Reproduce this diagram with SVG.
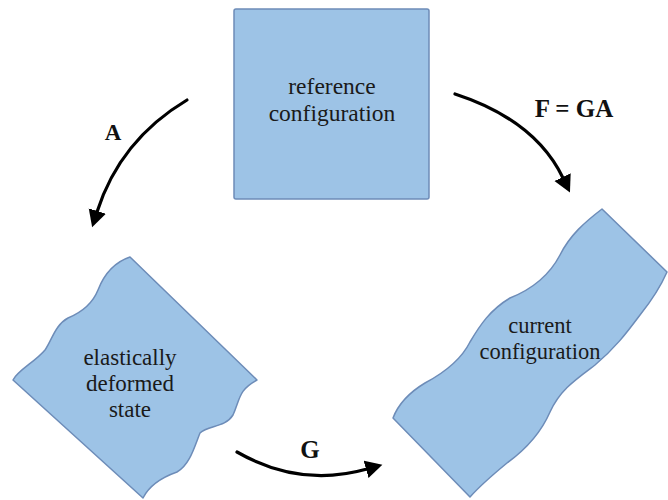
<svg xmlns="http://www.w3.org/2000/svg" width="668" height="500" viewBox="0 0 668 500">
<style>
.shape{fill:#9dc3e6;stroke:#6d8cb8;stroke-width:1.5;stroke-linejoin:round}
.lbl{font-family:"Liberation Serif","Times New Roman",Tinos,"DejaVu Serif",serif;fill:#1a1a1a;text-anchor:middle}
.math{font-family:"Liberation Serif","Times New Roman",Tinos,"DejaVu Serif",serif;font-weight:bold;fill:#111;text-anchor:middle}
.arr{fill:none;stroke:#000;stroke-width:3.2;stroke-linecap:round}
</style>
<defs>
<marker id="ah" markerUnits="userSpaceOnUse" markerWidth="20" markerHeight="20" refX="1" refY="9" orient="auto">
<path d="M0,0 L17,9 L0,18 Z" fill="#000"/>
</marker>
</defs>
<rect width="668" height="500" fill="#fff"/>
<g id="reference">
<rect class="shape" x="234" y="9" width="195" height="190" rx="2"/>
<text class="lbl" x="332" y="94" font-size="23.5">reference</text>
<text class="lbl" x="332" y="121" font-size="23.5">configuration</text>
</g>
<g id="elastic">
<path class="shape" d="M130,257 C115,262 105,272 98,290 C92,305 80,313 68,318 C55,325 52,340 45,350 C35,362 18,370 13,380 L143,498 C148,488 160,478 177,472 C190,465 195,445 200,433 C208,425 225,428 233,415 C240,400 238,390 257,380 Z"/>
<text class="lbl" x="130" y="365" font-size="23">elastically</text>
<text class="lbl" x="130" y="391" font-size="23">deformed</text>
<text class="lbl" x="130" y="417" font-size="23">state</text>
</g>
<g id="current">
<path class="shape" d="M602,209 C585,222 570,235 560,255 C548,278 530,290 510,298 C490,310 480,325 470,342 C460,362 440,375 425,383 C410,392 398,405 393,418 L470,497 C478,488 490,477 507,463 C525,450 540,435 550,412 C560,390 575,380 595,365 C615,348 625,335 640,315 C652,300 660,288 667,272 Z"/>
<text class="lbl" x="540" y="333" font-size="22.5">current</text>
<text class="lbl" x="540" y="359" font-size="22.5">configuration</text>
</g>
<g id="connectors">
<path class="arr" d="M187,100 Q120,140 97,212" marker-end="url(#ah)"/>
<path class="arr" d="M455,94 Q535,120 563,178" marker-end="url(#ah)"/>
<path class="arr" d="M237,452 Q300,488 367,469" marker-end="url(#ah)"/>
<text class="math" x="113" y="140" font-size="23">A</text>
<text class="math" x="574" y="117" font-size="25">F = GA</text>
<text class="math" x="310" y="458" font-size="25">G</text>
</g>
</svg>
